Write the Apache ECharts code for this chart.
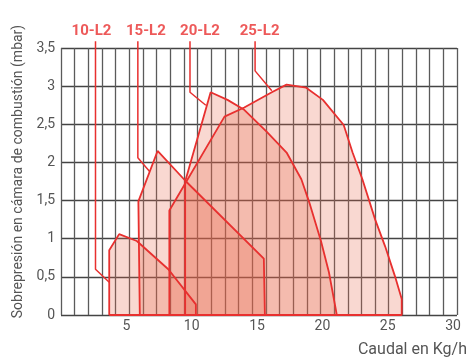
<!DOCTYPE html>
<html>
<head>
<meta charset="utf-8">
<script src="https://cdn.jsdelivr.net/npm/echarts@6/dist/echarts.min.js"></script>
<style>
html,body{margin:0;padding:0;background:#fff;}
#c{width:470px;height:358px;}
</style>
</head>
<body>
<div id="c"></div>
<script>
// Model names
const modelNames = ['10-L2', '15-L2', '20-L2', '25-L2'];

// Working-area polygons: [flow kg/h, overpressure mbar]
const curve10 = [[3.69,0],[3.69,0.85],[4.45,1.06],[5.80,0.97],[8.21,0.60],[10.32,0.14],[10.32,0]];
const curve15 = [[6.03,0],[5.92,1.49],[7.39,2.15],[9.57,1.75],[15.52,0.74],[15.60,0]];
const curve20 = [[9.50,0],[9.50,1.75],[11.45,2.92],[12.74,2.82],[14.02,2.69],[15.75,2.40],[17.26,2.13],[18.39,1.78],[18.99,1.48],[19.89,0.97],[20.50,0.56],[21.02,0.08],[21.10,0]];
const curve25 = [[8.29,0],[8.29,1.37],[12.51,2.60],[14.02,2.72],[16.13,2.92],[17.26,3.02],[18.76,2.98],[20.04,2.82],[21.63,2.49],[22.31,2.13],[23.06,1.78],[24.04,1.25],[24.80,0.90],[25.55,0.51],[26.07,0.21],[26.07,0]];

// Leader lines from model labels to their curves
const leader10 = [[2.64,3.59],[2.64,0.60],[3.69,0.43]];
const leader15 = [[5.88,3.59],[5.88,2.06],[6.78,1.88]];
const leader20 = [[9.87,3.59],[9.87,2.92],[11.08,2.75]];
const leader25 = [[14.85,3.59],[14.85,3.20],[16.13,2.94]];

// Axis ticks
const xTickLabels = [5, 10, 15, 20, 25, 30];
const yTickStep = 0.5;

const curves = [curve10, curve15, curve20, curve25];
const leaders = [leader10, leader15, leader20, leader25];
const labelShift = [-4, 8, 10, 4.5];

const RED = '#e8302f';
const FILL = 'rgba(232,100,70,0.25)';
const series = [];

curves.forEach((c, i) => {
  series.push({
    type: 'line', name: modelNames[i] + ' área', data: c,
    xAxisIndex: 0, yAxisIndex: 0, symbol: 'none', silent: true,
    lineStyle: { width: 0, opacity: 0 },
    areaStyle: { color: FILL, opacity: 1 },
    z: 2
  });
});
curves.forEach((c, i) => {
  series.push({
    type: 'line', name: modelNames[i], data: c.concat([c[0]]),
    xAxisIndex: 0, yAxisIndex: 0, symbol: 'none', silent: true,
    lineStyle: { width: 1.8, color: RED },
    z: 4
  });
});
leaders.forEach((l, i) => {
  series.push({
    type: 'line', name: modelNames[i] + ' guía', data: l, clip: false,
    xAxisIndex: 0, yAxisIndex: 0, symbol: 'none', silent: true,
    lineStyle: { width: 1.5, color: RED },
    z: 4
  });
});
series.push({
  type: 'scatter', clip: false, silent: true, symbolSize: 0,
  xAxisIndex: 0, yAxisIndex: 0,
  data: leaders.map((l, i) => ({
    value: l[0],
    label: {
      show: true, formatter: modelNames[i], position: 'top', distance: 2,
      offset: [labelShift[i], 0],
      color: RED, fontSize: 15, fontWeight: 'bold', fontFamily: 'Roboto'
    }
  })),
  z: 5
});

const chart = echarts.init(document.getElementById('c'), null, { renderer: 'canvas' });
chart.setOption({
  animation: false,
  backgroundColor: '#fff',
  grid: { left: 61, right: 7, top: 48, bottom: 42, containLabel: false },
  xAxis: [
    {
      type: 'value', min: 0, max: 30.3, interval: 5, position: 'bottom',
      axisLine: { show: false }, axisTick: { show: false }, splitLine: { show: false },
      axisLabel: {
        margin: 4, color: '#555', fontSize: 14, fontFamily: 'Roboto',
        formatter: v => (xTickLabels.indexOf(v) >= 0 ? String(v) : '')
      },
      name: 'Caudal en Kg/h', nameLocation: 'end', nameGap: 10,
      nameTextStyle: { color: '#555', fontSize: 16, fontFamily: 'Roboto', align: 'right', verticalAlign: 'top', padding: [27, 0, 0, 0] }
    },
    {
      type: 'value', min: 0, max: 29, interval: 1, position: 'bottom',
      axisLine: { show: false }, axisTick: { show: false }, axisLabel: { show: false },
      splitLine: { show: true, lineStyle: { color: '#5a5a5a', width: 1.3 } }
    }
  ],
  yAxis: {
    type: 'value', min: 0, max: 3.5, interval: yTickStep,
    axisLine: { show: false }, axisTick: { show: false },
    splitLine: { show: true, lineStyle: { color: '#444', width: 1.3 } },
    axisLabel: {
      margin: 6, color: '#555', fontSize: 14, fontFamily: 'Roboto',
      formatter: v => String(v).replace('.', ',')
    },
    name: 'Sobrepresión en cámara de combustión (mbar)', nameLocation: 'middle', nameGap: 34,
    nameTextStyle: { color: '#555', fontSize: 14, fontFamily: 'Roboto', padding: [0, 0, 0, 20] }
  },
  series: series
});
</script>
</body>
</html>
